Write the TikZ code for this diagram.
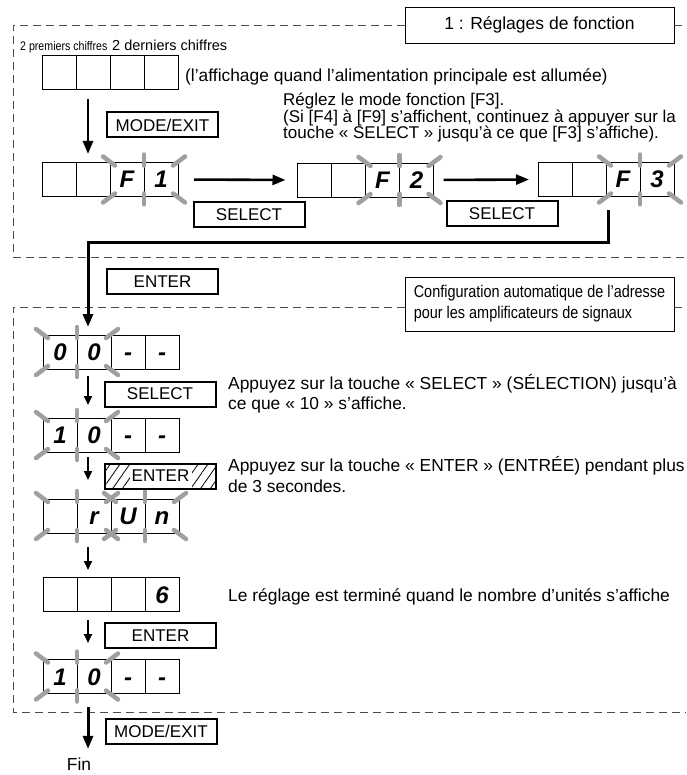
\documentclass[tikz,border=0pt]{standalone}
\usepackage{fontspec}
\setmainfont{Liberation Sans}
\newfontfamily\narrowfont[FakeStretch=0.85]{Liberation Sans}
\usetikzlibrary{positioning,arrows.meta,patterns.meta}
\newcommand{\panel}[6]{%
  \node[cell] (#1-1) at (#2) {#3};
  \node[cell, right=0pt of #1-1] (#1-2) {#4};
  \node[cell, right=0pt of #1-2] (#1-3) {#5};
  \node[cell, right=0pt of #1-3] (#1-4) {#6};
}
\newcommand{\blink}[2]{%
  \draw[glow] ([shift={(-7,-6)}]#1.north west) -- ([shift={(5,3)}]#1.north west);
  \draw[glow] ([shift={(7,-6)}]#2.north east) -- ([shift={(-5,3)}]#2.north east);
  \draw[glow] ([shift={(-7,6)}]#1.south west) -- ([shift={(5,-3)}]#1.south west);
  \draw[glow] ([shift={(7,6)}]#2.south east) -- ([shift={(-5,-3)}]#2.south east);
  \draw[glow] ([shift={(0,-8)}]#1.north east) -- ([shift={(0,3)}]#1.north east);
  \draw[glow] ([shift={(0,8)}]#1.south east) -- ([shift={(0,-3)}]#1.south east);
}
\begin{document}
\begin{tikzpicture}[x=1pt, y=-1pt,
  cell/.style={draw, line width=0.9pt, minimum width=34pt, minimum height=34pt, inner sep=0pt, outer sep=0pt,
    text height=17pt, text depth=0pt, font=\fontsize{24}{24}\selectfont\bfseries\itshape},
  glow/.style={draw=glowgray, line width=4.5pt, line cap=round},
  key/.style={draw, line width=2pt, minimum width=111pt, minimum height=25pt, inner sep=0pt, font=\fontsize{17}{17}\selectfont},
  hatch/.style={pattern={Lines[angle=55,distance=8pt,line width=0.8pt]},
    path picture={\fill[white] ([xshift=-31pt]path picture bounding box.south) rectangle ([xshift=31pt]path picture bounding box.north);}},
  frame/.style={draw=black!70, line width=0.9pt, dash pattern=on 8pt off 5pt},
  bigarrow/.style={line width=3pt, -{Triangle[length=13pt,width=10pt]}},
  midarrow/.style={line width=2.6pt, -{Triangle[length=13pt,width=10pt]}},
  smallarrow/.style={line width=2pt, -{Triangle[length=9pt,width=8pt]}},
  note/.style={align=left, inner sep=0pt, anchor=base west, font=\fontsize{17.4}{20.5}\selectfont}]
  \definecolor{glowgray}{RGB}{160,160,160}
  \useasboundingbox (0,0) rectangle (686,775);
  \coordinate (axis) at (88,0);

  \node[draw, line width=0.9pt, minimum width=269pt, minimum height=36pt, font=\fontsize{17.5}{17.5}\selectfont] (title) at (539.5,25) {1 : Réglages de fonction};
  \node[draw, line width=0.9pt, minimum width=269pt, minimum height=54pt, align=left, font=\narrowfont\fontsize{17}{21}\selectfont] (cfg) at (539.5,304) {Configuration automatique de l’adresse\\pour les amplificateurs de signaux};
  \draw[frame] (title.west) -| (13,257) -- (686,257);
  \draw[frame] (title.east) -- (686,25);
  \draw[frame] (cfg.west |- 0,307) -| (13,712) -- (686,712);
  \draw[frame] (cfg.east |- 0,307) -- (686,307);

  \node[anchor=base west, inner sep=0pt, font=\narrowfont\fontsize{12.5}{12.5}\selectfont] (firsttwo) at (20,51) {2 premiers chiffres};
  \node[anchor=base west, inner sep=0pt, font=\fontsize{14.5}{14.5}\selectfont] (lasttwo) at (112,51) {2 derniers chiffres};
  \node[note] (poweron) at (185,82) {(l’affichage quand l’alimentation principale est allumée)};
  \node[note, font=\fontsize{17}{16.5}\selectfont] (setf3) at (283,139) {Réglez le mode fonction [F3].\\(Si [F4] à [F9] s’affichent, continuez à appuyer sur la\\touche « SELECT » jusqu’à ce que [F3] s’affiche).};
  \node[note] (selnote) at (228,409.5) {Appuyez sur la touche « SELECT » (SÉLECTION) jusqu’à\\ce que « 10 » s’affiche.};
  \node[note] (entnote) at (228,492) {Appuyez sur la touche « ENTER » (ENTRÉE) pendant plus\\de 3 secondes.};
  \node[note] (donenote) at (228,601) {Le réglage est terminé quand le nombre d’unités s’affiche};
  \node[note, anchor=base] (fin) at (79,770.5) {Fin};

  \panel{d0}{59,72.5}{}{}{}{}
  \panel{dF1}{59,179.5}{}{}{F}{1}
  \panel{dF2}{314.5,180}{}{}{F}{2}
  \panel{dF3}{555,179.5}{}{}{F}{3}
  \panel{d00}{60,352}{0}{0}{-}{-}
  \panel{d10a}{60,435}{1}{0}{-}{-}
  \panel{drun}{60,516}{}{r}{U}{n}
  \panel{d6}{60,594.5}{}{}{}{6}
  \panel{d10b}{60,676.5}{1}{0}{-}{-}
  \blink{dF1-3}{dF1-4}
  \blink{dF2-3}{dF2-4}
  \blink{dF3-3}{dF3-4}
  \blink{d00-1}{d00-2}
  \blink{d10a-1}{d10a-2}
  \blink{drun-1}{drun-2}
  \blink{drun-3}{drun-4}
  \blink{d10b-1}{d10b-2}

  \node[key] (modeA) at (162.5,125) {MODE/EXIT};
  \node[key] (selA) at (249,214.5) {SELECT};
  \node[key] (selB) at (502,213.5) {SELECT};
  \node[key] (enterA) at (162.5,281.5) {ENTER};
  \node[key] (selC) at (160,394) {SELECT};
  \node[key, hatch] (enterB) at (160.5,476) {ENTER};
  \node[key] (enterC) at (160.5,635.5) {ENTER};
  \node[key] (modeB) at (161,731.5) {MODE/EXIT};

  \draw[midarrow, shorten <=10pt, shorten >=8.5pt] (axis |- d0-1.south) -- (axis |- dF1-1.north);
  \draw[midarrow, shorten <=16pt, shorten >=12pt] (dF1-4.east) -- (dF2-1.west);
  \draw[midarrow, shorten <=10pt, shorten >=9pt] (dF2-4.east) -- (dF3-1.west);
  \draw[bigarrow, shorten >=8pt] ([shift={(2,14)}]dF3-3.south west) |- (axis |- 0,243) -- (axis |- d00-1.north);
  \draw[smallarrow, shorten <=7pt, shorten >=13pt] (axis |- d00-1.south) -- (axis |- d10a-1.north);
  \draw[smallarrow, shorten <=5pt, shorten >=19pt] (axis |- d10a-1.south) -- (axis |- drun-1.north);
  \draw[smallarrow, shorten <=14pt, shorten >=7.5pt] (axis |- drun-1.south) -- (axis |- d6-1.north);
  \draw[smallarrow, shorten <=8.5pt, shorten >=16.5pt] (axis |- d6-1.south) -- (axis |- d10b-1.north);
  \draw[bigarrow, shorten <=13.5pt, shorten >=8.8pt] (axis |- d10b-1.south) -- (axis |- fin.north);
\end{tikzpicture}
\end{document}
